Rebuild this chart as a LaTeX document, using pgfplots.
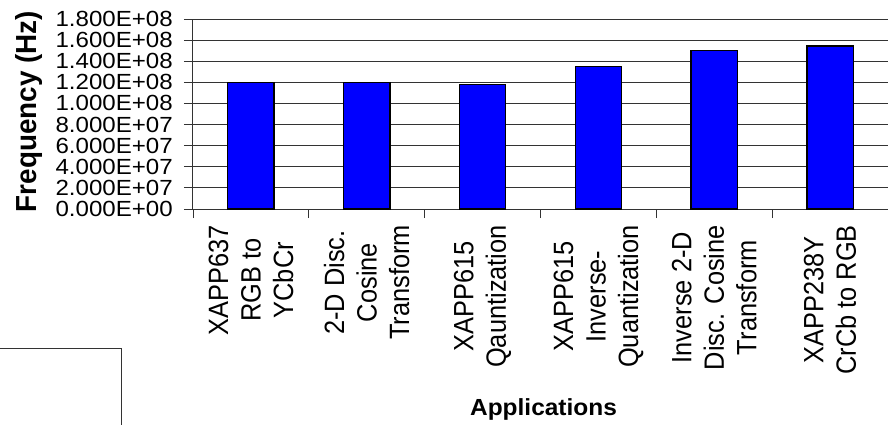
\documentclass[border=0pt]{standalone}
\usepackage{fontspec}
\setmainfont{Liberation Sans}
\newfontfamily\hfont[FakeStretch=1.1]{Liberation Sans}
\newfontfamily\afont[FakeStretch=1.05]{Liberation Sans}
\newfontfamily\vfont[FakeStretch=0.91]{Liberation Sans}
\newfontfamily\ffont[FakeStretch=0.96]{Liberation Sans}
\usepackage{pgfplots}
\pgfplotsset{compat=1.18}
\begin{document}
\begin{tikzpicture}
\begin{axis}[
  at={(0,0)}, anchor=south west,
  scale only axis, width=695bp, height=190bp,
  xmin=-0.5, xmax=5.5, ymin=0, ymax=1.8e8,
  ybar, bar width=0.4,
  axis x line*=bottom, axis y line*=left,
  axis line style={-, draw=black!80, line width=1bp},
  xtick={-0.5,0.5,1.5,2.5,3.5,4.5,5.5},
  x tick label as interval,
  xticklabels={{XAPP637\\RGB to\\YCbCr},{2-D Disc.\\Cosine\\Transform},{XAPP615\\Qauntization},{XAPP615\\Inverse-\\Quantization},{Inverse 2-D\\Disc. Cosine\\Transform},{XAPP238Y\\CrCb to RGB}},
  ytick={0,2e7,4e7,6e7,8e7,1e8,1.2e8,1.4e8,1.6e8,1.8e8},
  yticklabels={0.000E+00,2.000E+07,4.000E+07,6.000E+07,8.000E+07,1.000E+08,1.200E+08,1.400E+08,1.600E+08,1.800E+08},
  scaled y ticks=false,
  ymajorgrids, grid style={black!80, line width=0.8bp},
  tick align=outside, major tick length=9bp,
  tick style={black!80, line width=0.8bp},
  xticklabel shift=7bp,
  yticklabel shift=11bp,
  xticklabel style={rotate=90, anchor=east, inner sep=0pt, align=center, font=\vfont\fontsize{27.9bp}{32.5bp}\selectfont},
  yticklabel style={anchor=east, inner sep=0pt, font=\hfont\fontsize{21.9bp}{21.9bp}\selectfont},
  xlabel={Applications},
  xlabel style={at={(axis description cs:0.5043,-1.0842)}, anchor=base, inner sep=0pt, font=\afont\bfseries\fontsize{23.3bp}{23.3bp}\selectfont},
  ylabel={Frequency (Hz)},
  ylabel style={at={(axis description cs:-0.2252,0.513)}, rotate=0, anchor=base, inner sep=0pt, font=\ffont\bfseries\fontsize{29bp}{29bp}\selectfont},
]
\addplot[fill=blue, draw=black, line width=1.2bp] coordinates {(0,1.2e8) (1,1.2e8) (2,1.177e8) (3,1.352e8) (4,1.502e8) (5,1.545e8)};
\end{axis}
\draw[black!80, line width=1bp] (-193bp,-139bp) -- (-71bp,-139bp) -- (-71bp,-216bp);
\pgfresetboundingbox
\path[use as bounding box] (-193bp,-216bp) rectangle (695bp,209bp);
\end{tikzpicture}
\end{document}
